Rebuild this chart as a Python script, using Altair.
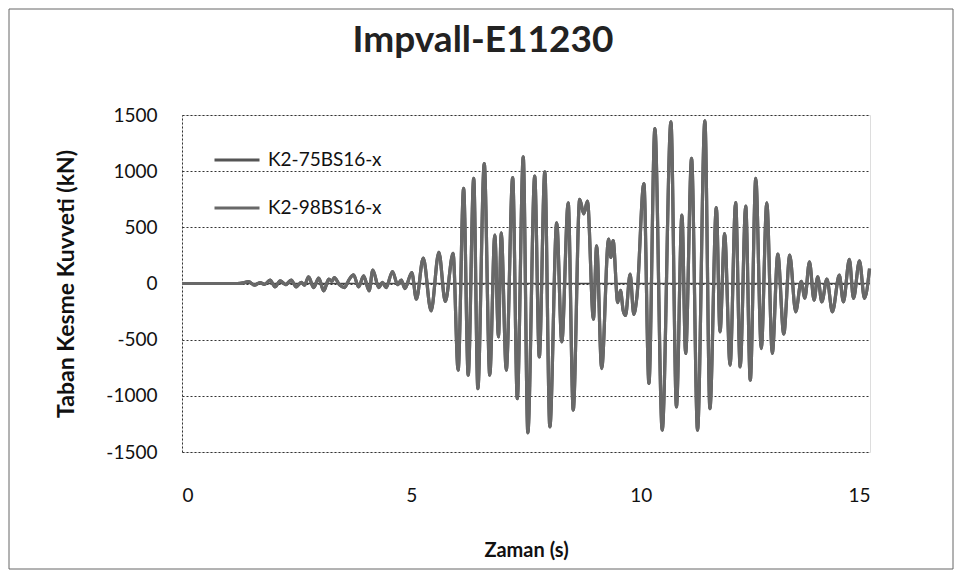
import altair as alt
import pandas as pd

# Time (s) of each turning point
t_s = [0.0, 1.20, 1.33, 1.45, 1.58, 1.70, 1.80, 1.92, 2.03, 2.14, 2.26, 2.38, 2.49, 2.60, 2.67,
       2.76, 2.87, 2.98, 3.09, 3.20, 3.27, 3.32, 3.43, 3.54, 3.65, 3.74, 3.85, 3.96, 4.08, 4.16,
       4.29, 4.37, 4.45, 4.59, 4.70, 4.78, 4.86, 5.01, 5.11, 5.26, 5.43, 5.60, 5.74, 5.91, 6.02,
       6.14, 6.24, 6.36, 6.45, 6.59, 6.71, 6.82, 6.90, 6.96, 7.07, 7.21, 7.31, 7.44, 7.54, 7.69,
       7.79, 7.91, 8.02, 8.17, 8.28, 8.42, 8.53, 8.67, 8.76, 8.84, 8.97, 9.04, 9.15, 9.30, 9.35,
       9.40, 9.50, 9.56, 9.62, 9.67, 9.77, 9.85, 9.92, 10.07, 10.18, 10.31, 10.47, 10.66, 10.78,
       10.90, 10.98, 11.11, 11.24, 11.40, 11.51, 11.65, 11.73, 11.83, 11.95, 12.07, 12.17, 12.29,
       12.39, 12.51, 12.63, 12.75, 12.87, 12.99, 13.12, 13.25, 13.38, 13.50, 13.58, 13.68, 13.78,
       13.86, 13.95, 14.06, 14.18, 14.33, 14.42, 14.55, 14.64, 14.77, 14.88, 14.99]

# Base shear (kN) of K2-75BS16-x at those times
kn_75 = [0, 0, 5, 18, -15, 8, -8, 30, -30, 24, -10, 30, -30, 10, -15,
         59, -36, 47, -65, 39, 20, 53, -10, -36, 39, 77, -30, 68, -65, 119,
         -36, 10, -36, 107, -10, 30, -45, 98, -140, 226, -244, 277, -160, 268, -771,
         846, -816, 935, -935, 1068, -816, 430, -475, 451, -771, 943, -1024, 1127, -1329, 955,
         -653, 994, -1276, 540, -519, 718, -1127, 748, 620, 733, -318, 336, -757, 396, 232,
         381, -170, -60, -244, -285, 83, -274, -110, 890, -890, 1380, -1305, 1439, -1098,
         608, -623, 1113, -1305, 1448, -1113, 676, -430, 445, -727, 721, -742, 688,
         -860, 935, -579, 718, -623, 261, -450, 252, -252, 20, -130, 193, -148,
         59, -163, 40, -252, 74, -163, 214, -133, 202, -133, 133]

# K2-98BS16-x: the two traces coincide everywhere in the picture
kn_98 = list(kn_75)

series_names = ["K2-75BS16-x", "K2-98BS16-x"]
series_colors = ["#555555", "#686868"]
y_ticks = [-1500, -1000, -500, 0, 500, 1000, 1500]
x_ticks = [0, 5, 10, 15]
chart_title = "Impvall-E11230"

FONT = "Lato"

df = pd.concat([
    pd.DataFrame({"t": t_s, "v": kn_75, "s": series_names[0], "o": 0}),
    pd.DataFrame({"t": t_s, "v": kn_98, "s": series_names[1], "o": 1}),
])

lines = alt.Chart(df).mark_line(strokeWidth=3.2, interpolate="monotone").encode(
    x=alt.X("t:Q", scale=alt.Scale(domain=[0, 15], nice=False),
            axis=alt.Axis(values=x_ticks, title="Zaman (s)", grid=False, domain=False,
                          ticks=False, tickSize=0, labelPadding=34, titlePadding=35,
                          labelExpr="'' + datum.value",
                          labelFontSize=19, titleFontSize=20, titleFontWeight="bold",
                          labelColor="#111", titleColor="#111", labelFont=FONT, titleFont=FONT)),
    y=alt.Y("v:Q", scale=alt.Scale(domain=[-1500, 1500], nice=False),
            axis=alt.Axis(values=y_ticks, title="Taban Kesme Kuvveti (kN)", grid=True,
                          gridDash=[2, 2], gridColor="#333", gridWidth=1,
                          domain=True, domainDash=[2, 2], domainColor="#333",
                          ticks=False, tickSize=0, labelPadding=25, titlePadding=27,
                          labelExpr="'' + datum.value",
                          labelFontSize=19, titleFontSize=23, titleFontWeight="bold",
                          labelColor="#111", titleColor="#111", labelFont=FONT, titleFont=FONT)),
    color=alt.Color("s:N", scale=alt.Scale(domain=series_names, range=series_colors),
                    legend=alt.Legend(title=None, orient="none", legendX=31, legendY=21,
                                      symbolType="stroke", symbolSize=2025, symbolStrokeWidth=3,
                                      labelFontSize=19, labelFont=FONT, labelColor="#111",
                                      labelOffset=7, rowPadding=14)),
    order="o:Q",
)

zero = alt.Chart(pd.DataFrame({"z": [0]})).mark_rule(color="#444", strokeWidth=1.5).encode(
    y=alt.Y("z:Q")
)

border = alt.Chart(pd.DataFrame({"a": [0]})).mark_rect(
    fillOpacity=0, stroke="#666", strokeWidth=1
).encode(x=alt.value(-173), x2=alt.value(771), y=alt.value(-106), y2=alt.value(454))

title = alt.Chart(pd.DataFrame({"label": [chart_title]})).mark_text(
    font=FONT, fontSize=37, fontWeight="bold", color="#222", align="center", baseline="middle"
).encode(text="label:N", x=alt.value(301), y=alt.value(-74))

chart = alt.layer(border, zero, lines, title).properties(
    width=688, height=337,
    autosize=alt.AutoSizeParams(type="none"),
    padding={"left": 174, "top": 107, "right": 84, "bottom": 118},
).configure_view(stroke=None).configure(background="white")

chart.save("out.html", embed_options={"renderer": "svg", "actions": False})
